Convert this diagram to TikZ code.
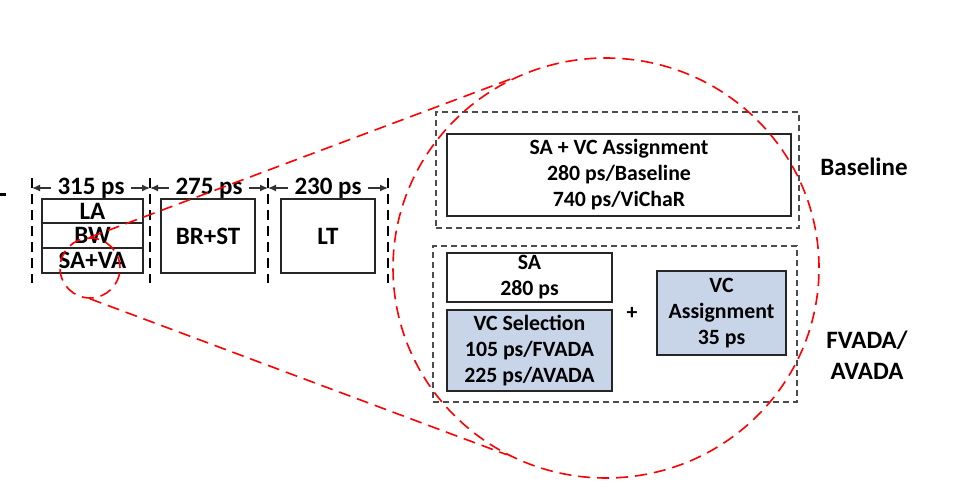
\documentclass[tikz,border=0pt]{standalone}
\usepackage{fontspec}
\setmainfont{Carlito}
\usetikzlibrary{arrows.meta,shapes.geometric}
\definecolor{boxblue}{RGB}{200,212,232}
\begin{document}
\begin{tikzpicture}[x=1pt,y=-1pt,
  blk/.style={draw=black!85, line width=1.5pt, rectangle, inner sep=0pt, align=center},
  bigtxt/.style={font=\fontsize{25}{28}\selectfont\bfseries},
  smalltxt/.style={font=\fontsize{21.8}{26}\selectfont\bfseries},
  grp/.style={draw=black!70, dash pattern=on 6pt off 4pt, line width=1.1pt, rectangle, inner sep=0pt},
  sepline/.style={draw=black, dash pattern=on 10pt off 6pt, line width=1.3pt},
  dimline/.style={black!80, line width=1.2pt, {Latex[length=8pt,width=7pt]}-{Latex[length=8pt,width=7pt]}},
  dimlabel/.style={bigtxt, text=black, fill=white, inner xsep=7pt, inner ysep=0pt},
  zoomline/.style={draw=red, dash pattern=on 12pt off 7pt, line width=1.6pt},
  bluebox/.style={fill=boxblue}
]
\useasboundingbox (0,0) rectangle (958,495);

% separators
\foreach \i/\x in {0/32,1/150,2/268,3/388}{
  \coordinate (t\i) at (\x,178);
  \coordinate (b\i) at (\x,283);
  \coordinate (d\i) at (\x,188);
  \draw[sepline] (t\i) -- (b\i);
}
\draw[dimline] (d0) -- (d1) node[midway, dimlabel] (l1) {315 ps};
\draw[dimline] (d1) -- (d2) node[midway, dimlabel] (l2) {275 ps};
\draw[dimline] (d2) -- (d3) node[midway, dimlabel] (l3) {230 ps};

\node[fill=black, minimum width=6pt, minimum height=3.5pt, inner sep=0pt] (mark) at (3,194.3) {};

% pipeline stages
\node[blk, bigtxt, minimum width=101pt, minimum height=24pt] (la) at (92.5,211) {LA};
\node[blk, bigtxt, minimum width=101pt, minimum height=25pt] (bw) at (92.5,235.5) {BW};
\node[blk, bigtxt, minimum width=101pt, minimum height=25pt] (sava) at (92.5,260.5) {SA+VA};
\node[blk, bigtxt, minimum width=94pt, minimum height=74pt] (brst) at (208,236) {BR+ST};
\node[blk, bigtxt, minimum width=94pt, minimum height=74pt] (lt) at (328,236) {LT};

% baseline group
\node[grp, minimum width=363pt, minimum height=116pt] (gbase) at (617.5,170) {};
\node[blk, smalltxt, minimum width=344pt, minimum height=82pt] (savc) at (619,175)
  {SA + VC Assignment\\280 ps/Baseline\\740 ps/ViChaR};

% FVADA group
\node[grp, minimum width=364pt, minimum height=156pt] (gfv) at (615,324) {};
\node[blk, smalltxt, minimum width=165pt, minimum height=49pt] (sa) at (529.5,277.5) {SA\\280 ps};
\node[blk, bluebox, smalltxt, minimum width=165pt, minimum height=81pt] (vcsel) at (529.5,350.5)
  {VC Selection\\105 ps/FVADA\\225 ps/AVADA};
\node[blk, bluebox, smalltxt, minimum width=129pt, minimum height=84pt] (vcas) at (721.5,313)
  {VC\\Assignment\\35 ps};
\node[smalltxt] (plus) at (632,313) {+};

% side labels
\node[bigtxt] (lbase) at (864,167) {Baseline};
\node[font=\fontsize{25}{30.5}\selectfont\bfseries, align=center] (lfv) at (867,355) {FVADA/\\AVADA};

% zoom
\node[ellipse, zoomline, minimum width=426pt, minimum height=420pt, inner sep=0pt] (bc) at (606,268) {};
\node[circle, zoomline, minimum size=60pt, inner sep=0pt] (sc) at (90,268) {};
\draw[zoomline] (sc.north) -- (bc.116);
\draw[zoomline] (sc.south) -- (bc.242);
\end{tikzpicture}
\end{document}
